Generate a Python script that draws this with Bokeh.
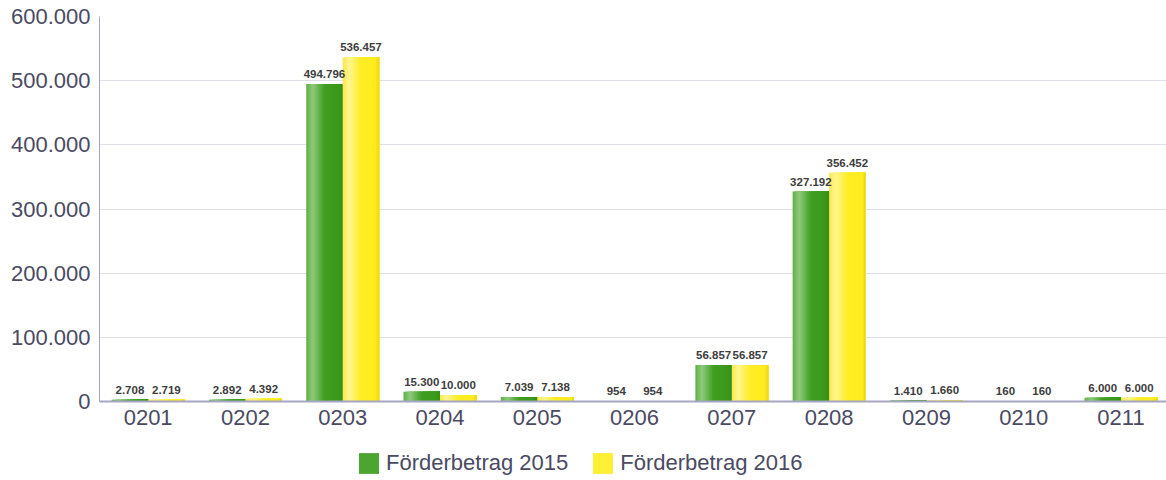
import numpy as np
from bokeh.plotting import figure
from bokeh.layouts import column
from bokeh.core.properties import value
from bokeh.models import (ColumnDataSource, Range1d, FixedTicker, LabelSet,
                          Legend, LegendItem)
from bokeh.embed import file_html
from bokeh.resources import INLINE

# ---- data ----
categories = ["0201", "0202", "0203", "0204", "0205", "0206",
              "0207", "0208", "0209", "0210", "0211"]
foerder_2015 = [2708, 2892, 494796, 15300, 7039, 954, 56857, 327192, 1410, 160, 6000]
foerder_2016 = [2719, 4392, 536457, 10000, 7138, 954, 56857, 356452, 1660, 160, 6000]
series_names = ["Förderbetrag 2015", "Förderbetrag 2016"]
y_ticks = [0, 100000, 200000, 300000, 400000, 500000, 600000]
y_tick_labels = ["0", "100.000", "200.000", "300.000", "400.000", "500.000", "600.000"]

FONT = "Liberation Sans"
TXT = "#4a4a63"

def de_fmt(v):
    return f"{v:,}".replace(",", ".")

def hex2rgb(h):
    h = h.lstrip("#")
    return np.array([int(h[i:i + 2], 16) for i in (0, 2, 4)], dtype=float)

def grad(stops, t):
    ps = [s[0] for s in stops]
    for i in range(len(stops) - 1):
        if ps[i] <= t <= ps[i + 1]:
            f = (t - ps[i]) / (ps[i + 1] - ps[i])
            c = hex2rgb(stops[i][1]) * (1 - f) + hex2rgb(stops[i + 1][1]) * f
            return "#%02x%02x%02x" % tuple(int(round(x)) for x in c)
    return stops[-1][1]

green_stops = [(0.0, "#5fae47"), (0.18, "#8fca7c"), (0.5, "#3f9e20"),
               (0.9, "#3a991a"), (1.0, "#338e16")]
yellow_stops = [(0.0, "#fbe94a"), (0.18, "#fff58f"), (0.5, "#ffee24"),
                (0.9, "#ffec1f"), (1.0, "#e8d41e")]

p = figure(width=1166, height=440, output_backend="svg", toolbar_location=None,
           x_range=Range1d(-0.5, 10.468), y_range=Range1d(0, 600000),
           min_border_left=99, min_border_right=0, min_border_top=16,
           min_border_bottom=39, outline_line_color=None)

p2 = figure(width=1166, height=40, output_backend="svg", toolbar_location=None,
            x_range=Range1d(0, 1), y_range=Range1d(0, 1),
            min_border_left=0, min_border_right=0, min_border_top=0,
            min_border_bottom=0, outline_line_color=None)
p2.axis.visible = False
p2.grid.visible = False

bw = 0.375
N = 24
x_idx = np.arange(len(categories))
legend_items = []
for vals, stops, off, name in [(foerder_2015, green_stops, -bw / 2, series_names[0]),
                               (foerder_2016, yellow_stops, bw / 2, series_names[1])]:
    xs, ws, tops, cols = [], [], [], []
    for i, v in zip(x_idx, vals):
        L = i + off - bw / 2
        R = i + off + bw / 2
        for k in range(N):
            left = L + k * bw / N
            xs.append((left + R) / 2)
            ws.append(R - left)
            tops.append(v)
            cols.append(grad(stops, (k + 0.5) / N))
    src = ColumnDataSource(dict(x=xs, w=ws, top=tops, c=cols))
    p.vbar(x="x", top="top", width="w", bottom=0, source=src,
           fill_color="c", line_color=None)
    mid = grad(stops, 0.45)
    proxy = p2.vbar(x=[0], top=[0], width=0, fill_color=mid, line_color=None)
    legend_items.append(LegendItem(label=name, renderers=[proxy]))
    lab_src = ColumnDataSource(dict(x=list(x_idx + off), y=vals,
                                    t=[de_fmt(v) for v in vals]))
    p.add_layout(LabelSet(x="x", y="y", text="t", source=lab_src,
                          text_align="center", text_baseline="alphabetic",
                          y_offset=6, text_font=value(FONT),
                          text_font_size=value("11.5px"),
                          text_font_style=value("bold"), text_color=value("#3d3d3d")))

p.xaxis.ticker = FixedTicker(ticks=list(x_idx))
p.xaxis.major_label_overrides = {int(i): c for i, c in zip(x_idx, categories)}
p.yaxis.ticker = FixedTicker(ticks=y_ticks)
p.yaxis.major_label_overrides = {t: l for t, l in zip(y_ticks, y_tick_labels)}
for ax in (p.xaxis, p.yaxis):
    ax.major_tick_line_color = None
    ax.minor_tick_line_color = None
    ax.major_tick_out = 0
    ax.major_tick_in = 0
    ax.major_label_text_font = FONT
    ax.major_label_text_font_size = "22px"
    ax.major_label_text_color = TXT
    ax.axis_line_color = "#a6a6c4"
p.xaxis.axis_line_width = 2
p.xaxis.major_label_standoff = 8
p.yaxis.major_label_standoff = 9
p.xgrid.grid_line_color = None
p.ygrid.grid_line_color = "#e0e0ea"
p.ygrid.grid_line_width = 1

legend = Legend(items=legend_items, orientation="horizontal",
                location=(257, 4), margin=0, padding=0, spacing=22,
                glyph_width=25, glyph_height=26, label_standoff=5,
                label_text_font=FONT, label_text_font_size="22px",
                label_text_color=TXT, border_line_color=None,
                background_fill_alpha=0)
p2.add_layout(legend, "center")

open("out.html", "w").write(file_html(column(p, p2), INLINE))
